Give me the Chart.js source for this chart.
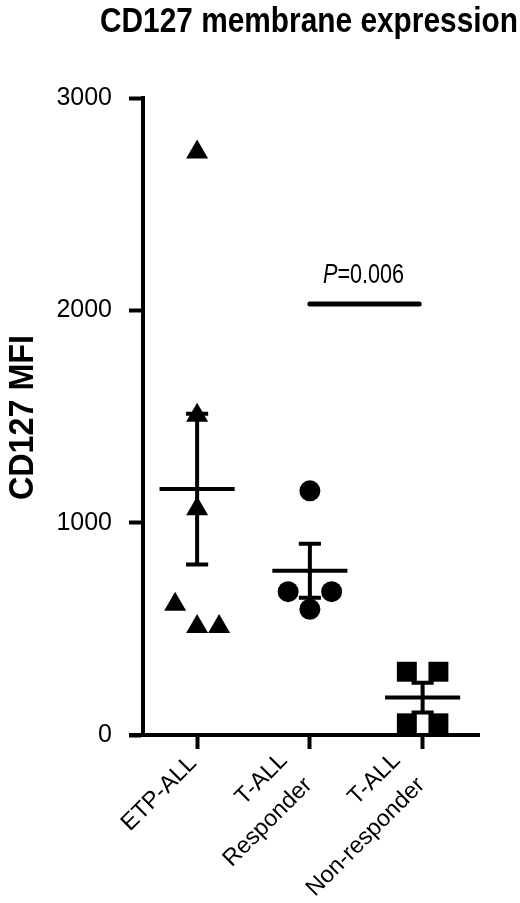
<!DOCTYPE html>
<html><head><meta charset="utf-8">
<script src="https://cdn.jsdelivr.net/npm/chart.js@4/dist/chart.umd.min.js"></script>
<style>html,body{margin:0;padding:0;background:#fff}#wrap{width:520px;height:903px}</style>
</head><body><div id="wrap"><canvas id="c" width="520" height="903"></canvas></div>
<script>
// ---- data ----
const categories = [["ETP-ALL"], ["T-ALL", "Responder"], ["T-ALL", "Non-responder"]];
const etpAll = [2745, 1505, 1065, 615, 510, 510];
const tallResponder = [1150, 675, 675, 592];
const tallNonResponder = [298, 298, 55, 55];
const yTicks = [0, 1000, 2000, 3000];
const titleText = "CD127 membrane expression";
const yTitle = "CD127 MFI";
const pLabel = ["P", "=0.006"];
const pCompare = [1, 2];      // groups compared
const pBracketValue = 2030;   // y value of the bracket line

// ---- layout / style constants ----
const jitter = [
  [0, 0, 0, -0.195, 0, 0.195],
  [0, -0.193, 0.193, 0],
  [-0.14, 0.14, -0.14, 0.14]
];
const NARROW = "'Liberation Sans Narrow','Arial Narrow','Liberation Sans',Arial,sans-serif";
const SANS = "'Liberation Sans',Arial,sans-serif";

function meanSem(a) {
  const n = a.length, m = a.reduce((s, v) => s + v, 0) / n;
  const sd = Math.sqrt(a.reduce((s, v) => s + (v - m) * (v - m), 0) / (n - 1));
  return [m, sd / Math.sqrt(n)];
}
const groups = [etpAll, tallResponder, tallNonResponder];
const barPts = [];
groups.forEach((g, i) => {
  const [m, s] = meanSem(g);
  barPts.push({x: i - 0.333, y: m}, {x: i + 0.333, y: m}, {x: i, y: null});
  barPts.push({x: i, y: m - s}, {x: i, y: m + s}, {x: i, y: null});
  barPts.push({x: i - 0.098, y: m + s}, {x: i + 0.098, y: m + s}, {x: i, y: null});
  barPts.push({x: i - 0.098, y: m - s}, {x: i + 0.098, y: m - s}, {x: i, y: null});
});

const pointSets = [
  {vals: etpAll, style: 'triangle', r: 12.7},
  {vals: tallResponder, style: 'circle', r: 10.5},
  {vals: tallNonResponder, style: 'rect', r: 14.1}
];

// draw text whose box is fitted to a given width
function fitText(ctx, txt, font, x, y, width, rot) {
  ctx.save();
  ctx.font = font;
  const w = ctx.measureText(txt).width;
  ctx.translate(x, y);
  if (rot) ctx.rotate(rot);
  ctx.scale(width / w, 1);
  ctx.textAlign = 'left';
  ctx.textBaseline = 'alphabetic';
  ctx.fillText(txt, 0, 0);
  ctx.restore();
}

const extraPlugin = {
  id: 'extra',
  afterDraw(chart) {
    const {ctx, chartArea, scales} = chart;
    ctx.save();
    ctx.fillStyle = '#000';
    // x axis line extends a little past the y axis
    ctx.strokeStyle = '#000';
    ctx.lineWidth = 4;
    ctx.beginPath();
    ctx.moveTo(chartArea.left - 14, chartArea.bottom);
    ctx.lineTo(chartArea.left, chartArea.bottom);
    ctx.stroke();

    // chart title
    fitText(ctx, titleText, "bold 35px " + NARROW, 100, 32, 418, 0);
    // y axis title (rotated)
    fitText(ctx, yTitle, "bold 35px " + NARROW, 33, 500, 165, -Math.PI / 2);

    // P value text
    const cx = scales.x.getPixelForValue(1.476);
    const by = scales.y.getPixelForValue(2130);
    ctx.font = "italic 28px " + NARROW;
    const w1 = ctx.measureText(pLabel[0]).width;
    ctx.font = "28px " + NARROW;
    const w2 = ctx.measureText(pLabel[1]).width;
    const k = 81 / (w1 + w2);
    ctx.save();
    ctx.translate(cx - 40.5, by);
    ctx.scale(k, 1);
    ctx.textBaseline = 'alphabetic'; ctx.textAlign = 'left';
    ctx.font = "italic 28px " + NARROW; ctx.fillText(pLabel[0], 0, 0);
    ctx.font = "28px " + NARROW; ctx.fillText(pLabel[1], w1, 0);
    ctx.restore();

    // rotated category labels
    const axisY = chartArea.bottom;
    const s2 = Math.SQRT1_2;
    const LH = 35;
    ctx.font = "23.5px " + SANS;
    ctx.textAlign = 'right';
    ctx.textBaseline = 'middle';
    categories.forEach((lines, i) => {
      const px = scales.x.getPixelForValue(i);
      const n = lines.length;
      const along = -20.5 - (n > 1 ? 13.4 : 0);
      lines.forEach((t, j) => {
        const perp = 14.5 + (j - (n - 1) / 2) * LH;
        const x = px + perp * s2 + along * s2;
        const y = axisY + perp * s2 - along * s2;
        ctx.save();
        ctx.translate(x, y);
        ctx.rotate(-Math.PI / 4);
        ctx.fillText(t, 0, 0);
        ctx.restore();
      });
    });
    ctx.restore();
  }
};

const datasets = [
  {
    data: barPts, showLine: true, spanGaps: false, borderColor: '#000', borderWidth: 4,
    pointRadius: 0, borderCapStyle: 'butt', clip: false
  },
  {
    data: [{x: pCompare[0], y: pBracketValue}, {x: pCompare[1] - 0.03, y: pBracketValue}],
    showLine: true, borderColor: '#000', borderWidth: 5, pointRadius: 0, borderCapStyle: 'round', clip: false
  }
];
pointSets.forEach((p, i) => {
  datasets.push({
    data: p.vals.map((v, k) => ({x: i + jitter[i][k], y: v})),
    pointStyle: p.style, pointRadius: p.r, pointBackgroundColor: '#000',
    pointBorderWidth: 0, pointBorderColor: '#000', showLine: false, clip: false
  });
});

new Chart(document.getElementById('c'), {
  type: 'scatter',
  data: {datasets},
  plugins: [extraPlugin],
  options: {
    responsive: false, animation: false, devicePixelRatio: 1,
    layout: {padding: {left: 0, right: 41, top: 98, bottom: 0}},
    plugins: {
      legend: {display: false}, tooltip: {enabled: false}, title: {display: false}
    },
    scales: {
      x: {
        type: 'linear', min: -0.48, max: 2.5,
        afterBuildTicks: s => { s.ticks = categories.map((c, i) => ({value: i})); },
        afterFit: s => { s.height = 168; },
        grid: {drawOnChartArea: false, drawTicks: true, tickLength: 14, tickWidth: 4, tickColor: '#000'},
        border: {display: true, width: 4, color: '#000'},
        ticks: {display: false, autoSkip: false}
      },
      y: {
        type: 'linear', min: 0, max: 3000,
        afterBuildTicks: s => { s.ticks = yTicks.map(v => ({value: v})); },
        afterFit: s => { s.width = 143; },
        grid: {drawOnChartArea: false, drawTicks: true, tickLength: 14, tickWidth: 4, tickColor: '#000'},
        border: {display: true, width: 4, color: '#000'},
        ticks: {color: '#000', font: {family: SANS, size: 25}, padding: 17, callback: v => String(v)}
      }
    }
  }
});
</script></body></html>
